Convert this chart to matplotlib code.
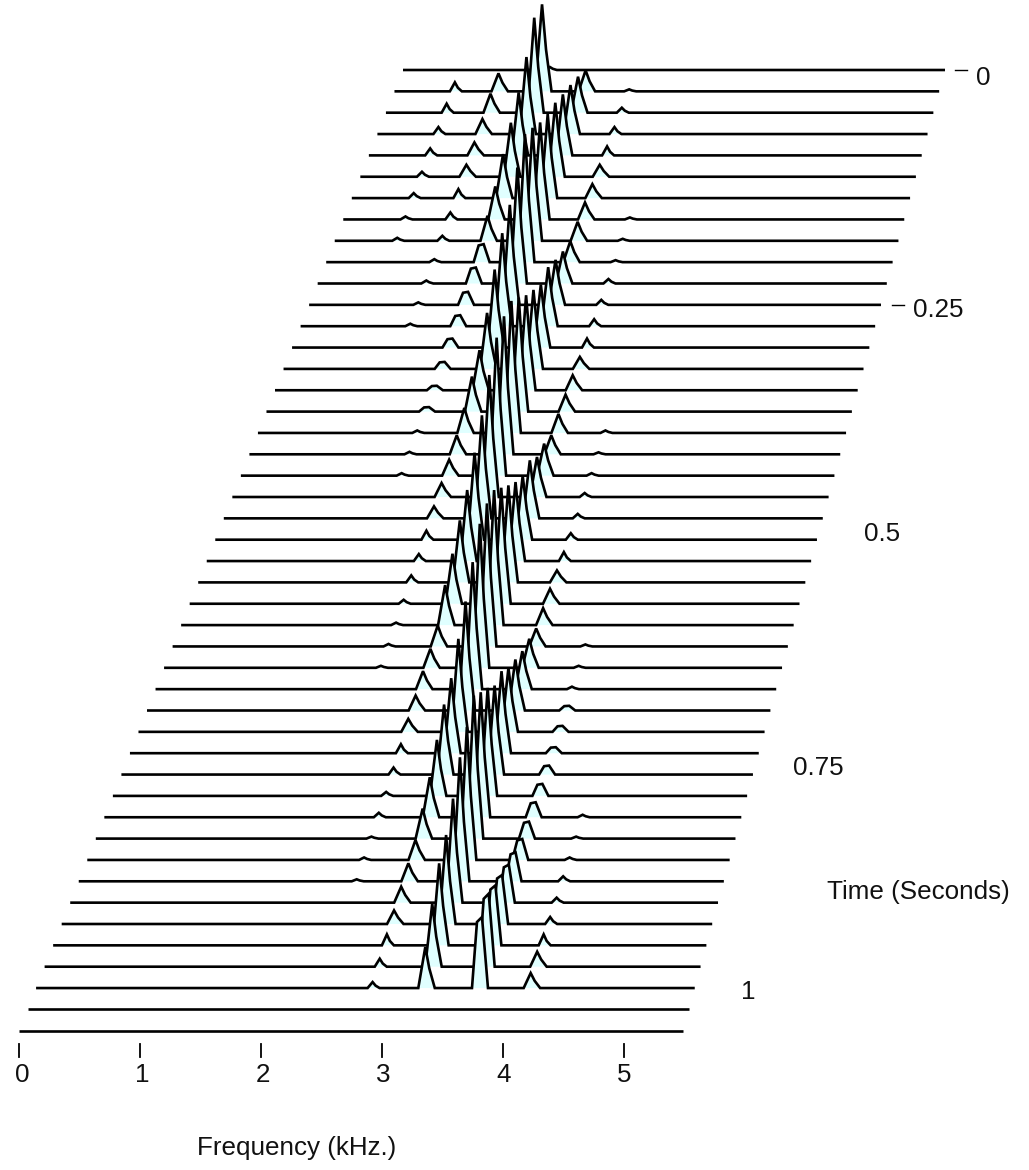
import matplotlib
matplotlib.use('Agg')
import matplotlib.pyplot as plt

FG = 'black'
TXT = '#111111'
FILL = '#E0FFFF'

# spectrogram: harmonic freq [kHz], first frame it shows up in, peak heights
N_FRAMES = 46
freqs = [0.61, 1.05, 1.49, 1.93, 2.37, 2.81, 3.25, 3.69, 4.13]
first_frame = [1, 1, 0, 1, 1, 7, 17, 27, 35]
h0 = [9, 9, 7, 7, 5, 5, 3, 3]
h1 = [18, 19, 15, 13, 12, 9, 7, 5, 3, 3, 2.5, 2.5]
h2 = [3, 87, 95, 77, 63, 54, 44, 33, 25, 18, 16, 13, 11, 9, 7, 4.5, 4.5, 2.5, 2.5, 2.5]
h3 = [21, 36, 49, 61, 74, 84, 97, 113, 128, 116, 100, 93, 78, 56, 40, 35, 25, 19, 16, 14,
      12, 9, 7, 7, 4, 2.5, 2.5, 2]
h4 = [2, 5, 7, 9, 12, 14, 17, 19, 21, 32, 45, 59, 63, 79, 95, 114, 132, 138, 138, 122,
      103, 87, 71, 62, 50, 40, 21, 19, 18, 15, 13, 9, 7, 4, 4.5, 2, 2.5, 2]
h5 = [2, 2, 2, 4.5, 5, 7, 9, 12, 15, 17, 19, 19, 32, 40, 58, 64, 79, 97, 116, 135,
      143, 144, 127, 109, 93, 75, 70, 56, 40, 30, 20, 18, 16, 13.6, 11, 8, 6]
h6 = [2.5, 2, 2.5, 4, 4.5, 6.5, 9, 12, 15, 17, 18, 29, 38, 51, 64, 82, 89, 108, 125, 143,
      133, 124, 104, 89, 82, 63, 41]
h7 = [2, 2, 2.5, 4.7, 6, 6, 9, 12, 15, 17, 21, 29, 38, 49, 60, 73, 71]
h8 = [2.5, 2, 2.5, 5, 5, 7, 11, 15, 15]
heights = [h0, h1, h2, h3, h4, h5, h6, h7, h8]

# harmonic -> (first, last) frame where the peak top looks flat instead of pointed
flat_frames = {2: (9, 16), 7: (30, 43)}

freq_ticks = [0, 1, 2, 3, 4, 5]
time_labels = ['0', '0.25', '0.5', '0.75', '1']
FMAX = 5.5


def base_y(r):
    return 70 + 21.35 * r


def left_x(r):
    return 403 - 8.533 * r


def right_x(r):
    return 945 - 5.82 * r


def freq_x(f, r):
    return left_x(r) + f * (right_x(r) - left_x(r)) / FMAX


def peaks_in_frame(r):
    out = []
    for k, (f, start, h) in enumerate(zip(freqs, first_frame, heights)):
        if start <= r < start + len(h):
            out.append((k, f, h[r - start]))
    return out


def peak_outline(k, r, h):
    lo, hi = flat_frames.get(k, (1, 0))
    if lo <= r <= hi:
        return [-6, -1, 4, 10], [0, 0.93, 1, 0]
    if h < 12:
        return [-5, -2.5, 0, 3, 7], [0, 0.5, 1, 0.4, 0]
    return [-7, -3.5, 0, 4, 9.5], [0, 0.5, 1, 0.48, 0]


def main():
    plt.rcParams['font.family'] = ['Liberation Sans', 'DejaVu Sans']
    fig = plt.figure(figsize=(10.29, 11.7), dpi=100, facecolor='white')
    ax = fig.add_axes([0, 0, 1, 1])
    ax.set_xlim(0, 1029)
    ax.set_ylim(1170, 0)
    ax.axis('off')

    for r in range(N_FRAMES):
        y0 = base_y(r)
        zo = 2 + r
        xs = [left_x(r)]
        ys = [y0]
        for k, f, h in peaks_in_frame(r):
            px = freq_x(f, r)
            offs, rel = peak_outline(k, r, h)
            px_line = [px + o for o in offs]
            py_line = [y0 - h * w for w in rel]
            xs += px_line
            ys += py_line
            ax.fill(px_line, py_line, facecolor=FILL, edgecolor='none', zorder=zo)
        xs.append(right_x(r))
        ys.append(y0)
        ax.plot(xs, ys, color=FG, lw=1.9, zorder=zo + 0.5, solid_joinstyle='miter',
                solid_capstyle='butt')

    # frequency axis
    for k in freq_ticks:
        ax.plot([19 + 121 * k] * 2, [1044, 1057], color=FG, lw=1.3, zorder=100)
        ax.text(22 + 120.5 * k, 1075, str(k), fontsize=18.7, ha='center', va='center', color=TXT)

    # time axis, only the first two ticks are there
    for r, x0 in [(0, 955), (11, 892)]:
        ax.plot([x0, x0 + 12], [base_y(r)] * 2, color=FG, lw=1.0, zorder=100)
    label_pos = [(983, 78), (938, 310), (882, 534), (818, 768), (748, 992)]
    for txt, (x, y) in zip(time_labels, label_pos):
        ax.text(x, y, txt, fontsize=18.7, ha='center', va='center', color=TXT)

    ax.text(918, 892, 'Time (Seconds)', fontsize=18.7, ha='center', va='center', color=TXT)
    ax.text(296.5, 1148, 'Frequency (kHz.)', fontsize=18.7, ha='center', va='center', color=TXT)

    fig.savefig('out.png', dpi=100, facecolor='white')


if __name__ == '__main__':
    main()
